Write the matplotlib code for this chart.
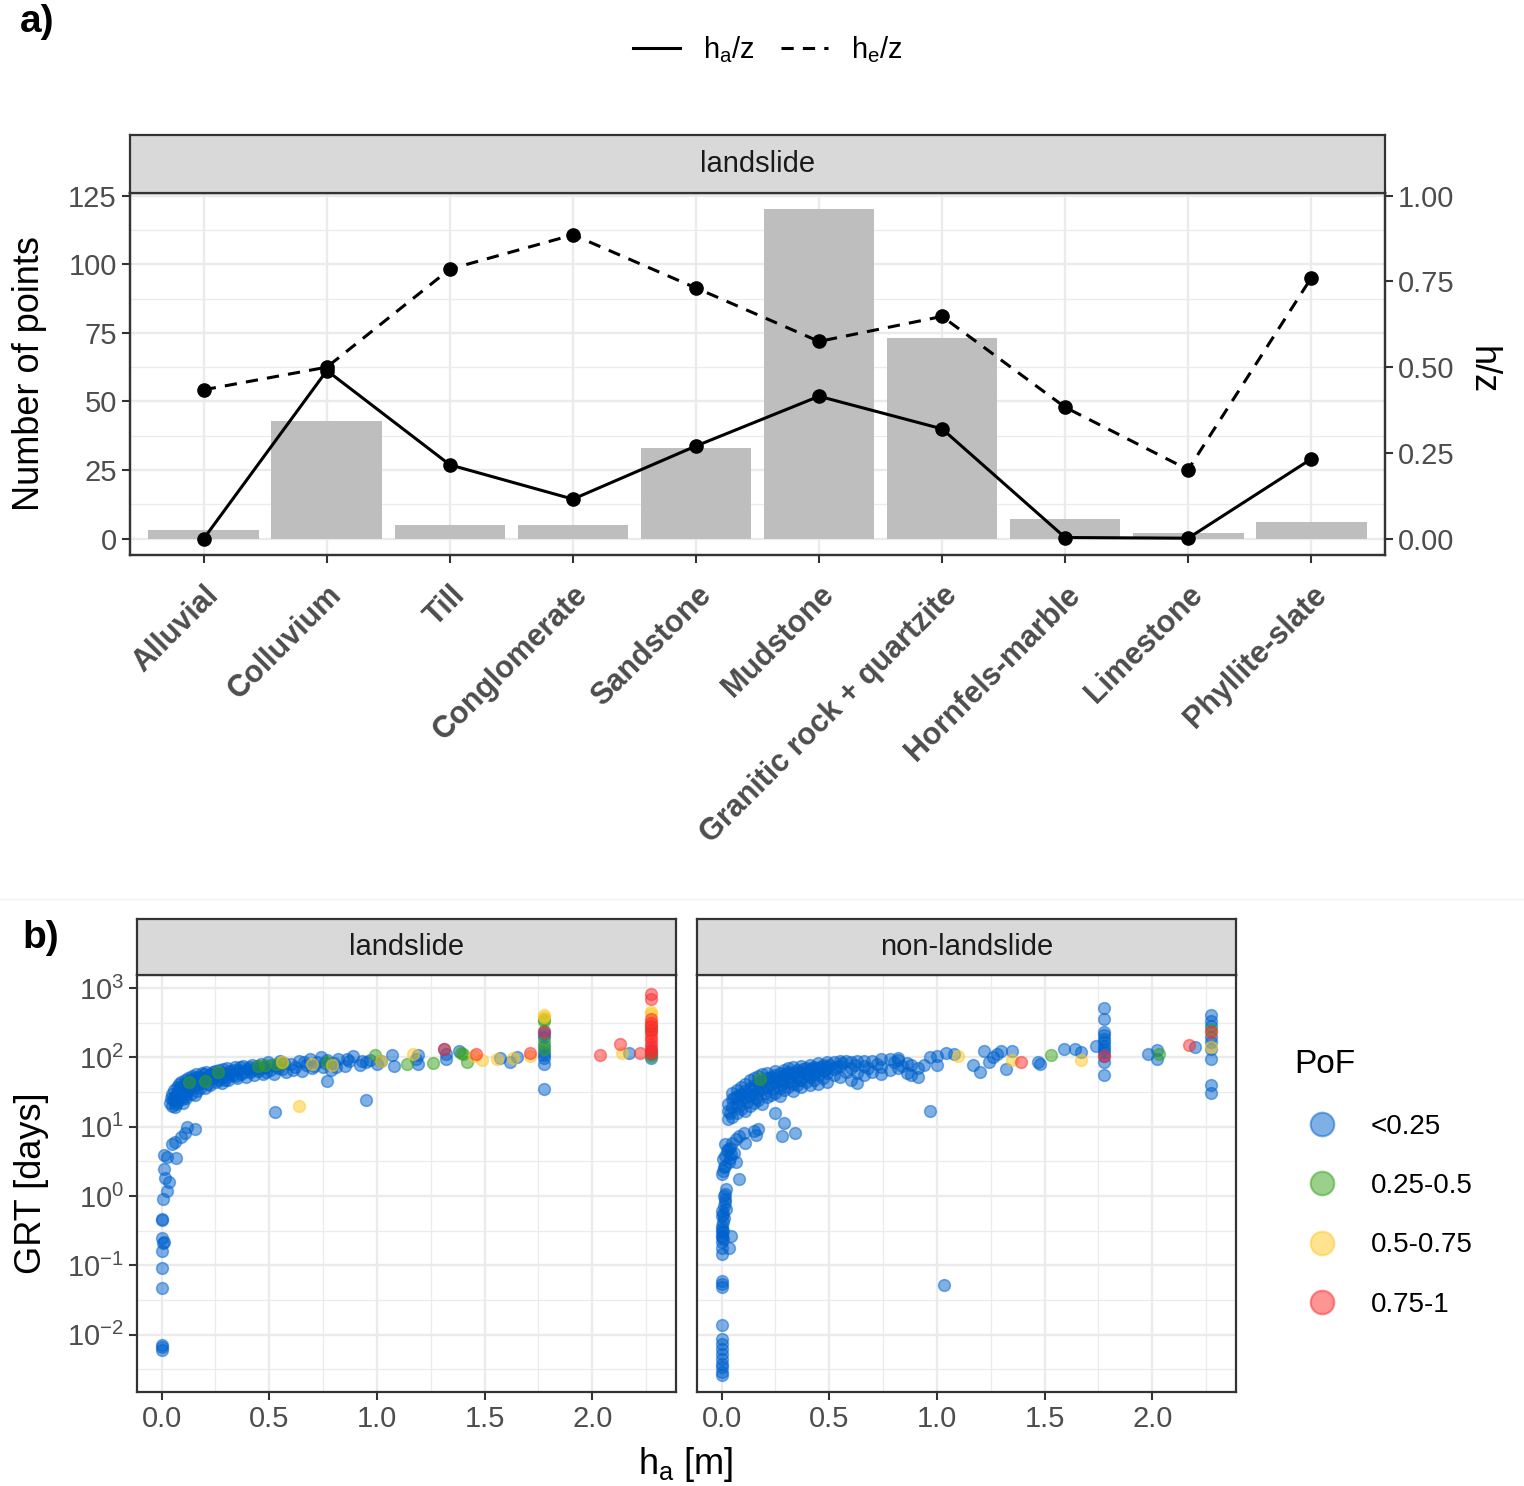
import matplotlib
matplotlib.use("Agg")
import matplotlib.pyplot as plt
from matplotlib.lines import Line2D
import numpy as np

plt.rcParams['font.family'] = ['Liberation Sans', 'DejaVu Sans']
plt.rcParams['mathtext.fontset'] = 'custom'
plt.rcParams['mathtext.rm'] = 'Liberation Sans'
plt.rcParams['mathtext.it'] = 'Liberation Sans:italic'
plt.rcParams['mathtext.default'] = 'regular'

# ---------------- data: panel a ----------------
lithology = ['Alluvial', 'Colluvium', 'Till', 'Conglomerate', 'Sandstone', 'Mudstone',
             'Granitic rock + quartzite', 'Hornfels-marble', 'Limestone', 'Phyllite-slate']
n_points = [3, 43, 5, 5, 33, 120, 73, 7, 2, 6]
ha_z = [0.00, 0.49, 0.215, 0.115, 0.27, 0.415, 0.32, 0.003, 0.001, 0.232]
he_z = [0.434, 0.50, 0.786, 0.886, 0.731, 0.575, 0.648, 0.383, 0.201, 0.76]

# ---------------- data: panel b (h_a [m], GRT [days]) ----------------
ls_blue = [
    (0.000, 0.0060), (0.000, 0.0066), (0.000, 0.0072), (0.000, 0.047), (0.000, 0.093),
    (0.000, 0.16), (0.003, 0.25), (0.010, 0.22), (0.006, 0.21), (0.000, 0.45), (0.003, 0.47),
    (0.006, 0.90), (0.026, 1.2), (0.035, 1.6), (0.018, 1.85), (0.011, 2.5), (0.011, 3.9),
    (0.026, 3.7), (0.068, 3.5), (0.049, 5.6), (0.062, 6.0), (0.092, 7.2), (0.108, 8.1),
    (0.119, 10.0), (0.157, 9.3),
    (0.040, 22), (0.045, 26), (0.050, 20), (0.050, 30), (0.055, 24), (0.060, 34), (0.062, 19),
    (0.065, 28), (0.070, 37), (0.072, 23), (0.075, 31), (0.080, 26), (0.082, 41), (0.085, 35),
    (0.090, 29), (0.092, 44), (0.095, 25), (0.100, 39), (0.102, 32), (0.108, 47), (0.110, 28),
    (0.112, 36), (0.118, 43), (0.122, 51), (0.125, 33), (0.128, 40), (0.132, 47), (0.136, 30),
    (0.140, 54), (0.143, 42), (0.150, 37), (0.152, 50), (0.158, 45), (0.162, 57), (0.166, 33),
    (0.170, 48), (0.175, 41), (0.180, 53), (0.186, 60), (0.190, 44), (0.196, 50), (0.200, 36),
    (0.208, 62), (0.212, 47), (0.220, 55), (0.225, 40), (0.232, 58), (0.240, 50), (0.246, 64),
    (0.252, 45), (0.260, 57), (0.268, 66), (0.272, 50), (0.280, 43), (0.290, 60), (0.298, 53),
    (0.305, 70), (0.310, 47), (0.320, 63), (0.330, 56), (0.340, 72), (0.350, 50), (0.360, 66),
    (0.370, 58), (0.380, 75), (0.390, 52), (0.400, 68), (0.410, 61), (0.420, 78), (0.430, 55),
    (0.440, 70), (0.450, 64), (0.460, 80), (0.470, 58), (0.480, 73), (0.495, 85), (0.505, 66),
    (0.520, 58), (0.530, 76), (0.550, 88), (0.560, 68), (0.580, 62), (0.600, 80), (0.620, 72),
    (0.640, 90), (0.650, 64), (0.670, 78), (0.690, 95), (0.700, 70), (0.720, 85), (0.740, 100),
    (0.750, 74), (0.770, 92), (0.785, 66), (0.800, 82), (0.820, 95), (0.850, 75), (0.870, 88),
    (0.890, 105), (0.920, 78), (0.950, 85), (0.970, 92), (1.000, 80), (1.020, 88), (1.070, 107),
    (1.080, 76),
    (0.058, 27), (0.068, 21), (0.078, 33), (0.088, 38), (0.098, 22), (0.105, 35), (0.115, 26),
    (0.120, 45), (0.135, 38), (0.145, 48), (0.155, 29), (0.165, 52), (0.178, 36), (0.188, 48),
    (0.198, 58), (0.215, 42), (0.228, 52), (0.238, 61), (0.255, 55), (0.265, 47), (0.285, 68),
    (0.295, 48), (0.315, 58), (0.335, 66), (0.345, 54), (0.365, 72), (0.385, 62), (0.405, 74),
    (0.425, 66), (0.445, 76), (0.465, 70), (0.485, 62), (0.510, 78), (0.540, 70), (0.570, 84),
    (0.610, 66), (0.660, 85), (0.710, 76), (0.760, 82), (0.810, 72), (0.860, 95), (0.930, 88),
    (0.527, 16.5), (0.950, 24), (0.770, 46),
    (1.18, 95), (1.19, 81), (1.19, 110), (1.31, 132), (1.32, 95), (1.32, 112), (1.38, 126),
    (1.57, 98), (1.62, 85), (1.65, 100), (2.17, 117),
    (1.775, 245), (1.775, 219), (1.775, 200), (1.775, 148), (1.775, 120), (1.775, 110),
    (1.775, 98), (1.775, 81), (1.775, 35),
    (2.275, 130), (2.275, 112), (2.275, 98),
]
ls_green = [
    (0.126, 44), (0.20, 46), (0.26, 62), (0.45, 76), (0.48, 78), (0.53, 80), (0.56, 82),
    (0.77, 85), (0.99, 107), (1.14, 81), (1.26, 83), (1.39, 117), (1.40, 112), (1.42, 87),
    (1.775, 355), (1.775, 331), (1.775, 166), (1.775, 132),
    (2.275, 288), (2.275, 251), (2.275, 105),
]
ls_yellow = [
    (0.64, 20), (0.56, 85), (0.70, 81), (0.79, 79), (1.02, 89), (1.17, 112), (1.45, 105),
    (1.49, 93), (1.56, 95), (1.63, 98), (1.71, 105), (1.775, 417), (1.775, 380), (2.14, 117),
    (2.275, 457), (2.275, 427), (2.275, 324),
]
ls_red = [
    (1.31, 132), (1.46, 112), (1.71, 117), (1.775, 234), (2.035, 110), (2.13, 158), (2.22, 117),
    (2.275, 832), (2.275, 692), (2.275, 363), (2.275, 316), (2.275, 282), (2.275, 251),
    (2.275, 224), (2.275, 200), (2.275, 178), (2.275, 158), (2.275, 141), (2.275, 126),
    (2.275, 117),
]

nl_blue = [
    (0.0, 0.0026), (0.0, 0.0029), (0.0, 0.0034), (0.0, 0.0038), (0.0, 0.0045), (0.0, 0.0052),
    (0.0, 0.0062), (0.0, 0.0074), (0.0, 0.0087), (0.0, 0.014), (0.0, 0.049), (0.0, 0.054),
    (0.0, 0.060), (1.035, 0.052),
    (0.0, 0.145), (0.003, 0.18), (0.034, 0.18), (0.042, 0.27), (0.003, 0.22), (0.0, 0.27),
    (0.0, 0.34), (0.006, 0.42), (0.0, 0.52), (0.003, 0.61), (0.011, 0.73), (0.018, 0.91),
    (0.015, 1.07), (0.022, 1.26), (0.003, 0.37), (0.0, 0.30), (0.011, 0.49), (0.0, 0.26),
    (0.015, 0.82), (0.006, 0.24), (0.008, 0.56), (0.020, 0.66), (0.012, 1.0), (0.006, 0.31),
    (0.0, 2.1), (0.006, 2.3), (0.015, 2.7), (0.006, 3.4), (0.018, 3.8), (0.026, 4.5),
    (0.037, 5.0), (0.018, 5.6), (0.049, 5.9), (0.065, 6.6), (0.080, 7.4), (0.103, 8.1),
    (0.080, 1.76), (0.065, 3.1), (0.057, 4.2), (0.034, 3.1), (0.046, 4.1), (0.150, 8.7),
    (0.170, 9.2), (0.160, 7.6), (0.110, 5.9), (0.25, 16), (0.29, 11.5), (0.28, 7.4),
    (0.34, 8.1), (0.010, 2.6), (0.030, 4.8), (0.040, 3.6),
    (0.03, 13), (0.03, 17), (0.03, 21),
    (0.05, 14), (0.05, 19), (0.05, 25), (0.05, 31),
    (0.07, 16), (0.07, 22), (0.07, 28), (0.07, 34),
    (0.09, 18), (0.09, 24), (0.09, 30), (0.09, 38),
    (0.11, 17), (0.11, 26), (0.11, 33), (0.11, 42),
    (0.13, 20), (0.13, 28), (0.13, 36), (0.13, 47),
    (0.15, 22), (0.15, 30), (0.15, 40), (0.15, 50),
    (0.17, 24), (0.17, 33), (0.17, 43), (0.17, 54),
    (0.19, 21), (0.19, 35), (0.19, 46), (0.19, 57),
    (0.21, 27), (0.21, 38), (0.21, 50), (0.21, 60),
    (0.23, 29), (0.23, 41), (0.23, 53),
    (0.25, 31), (0.25, 44), (0.25, 56), (0.25, 63),
    (0.27, 28), (0.27, 36), (0.27, 48), (0.27, 60),
    (0.29, 34), (0.29, 45), (0.29, 55), (0.29, 66),
    (0.31, 37), (0.31, 50), (0.31, 62), (0.31, 70),
    (0.33, 33), (0.33, 42), (0.33, 58), (0.33, 72),
    (0.35, 40), (0.35, 53), (0.35, 66),
    (0.37, 37), (0.37, 48), (0.37, 62), (0.37, 75),
    (0.39, 44), (0.39, 58), (0.39, 70),
    (0.41, 40), (0.41, 52), (0.41, 66), (0.41, 78),
    (0.43, 47), (0.43, 60), (0.43, 74),
    (0.45, 42), (0.45, 56), (0.45, 70), (0.45, 82),
    (0.47, 50), (0.47, 64), (0.47, 78),
    (0.49, 45), (0.49, 60), (0.49, 72), (0.49, 85),
    (0.52, 55), (0.52, 68), (0.52, 85),
    (0.55, 52), (0.55, 75), (0.55, 88),
    (0.58, 62), (0.58, 90),
    (0.60, 48), (0.60, 70), (0.60, 85),
    (0.63, 43), (0.63, 60), (0.63, 88),
    (0.66, 55), (0.66, 75), (0.66, 90),
    (0.70, 62), (0.70, 88),
    (0.74, 57), (0.74, 72), (0.74, 95),
    (0.78, 65), (0.78, 95),
    (0.82, 70), (0.82, 92), (0.82, 98),
    (0.86, 60), (0.86, 82),
    (0.88, 55), (0.88, 78),
    (0.91, 52), (0.91, 70),
    (0.94, 77), (0.97, 102), (0.97, 17),
    (0.04, 16), (0.06, 26), (0.08, 20), (0.10, 28), (0.12, 23), (0.14, 34), (0.16, 26),
    (0.18, 38), (0.20, 31), (0.22, 45), (0.24, 36), (0.26, 52), (0.28, 41), (0.30, 58),
    (0.32, 46), (0.34, 62), (0.36, 48), (0.38, 68), (0.40, 56), (0.42, 70), (0.44, 62),
    (0.46, 74), (0.48, 66), (0.50, 78), (0.53, 72), (0.56, 82), (0.62, 78), (0.68, 70),
    (0.72, 80), (0.80, 85), (0.84, 75),
    (1.00, 105), (1.00, 78), (1.04, 117), (1.08, 112), (1.17, 78), (1.20, 62), (1.22, 126),
    (1.24, 87), (1.26, 100), (1.28, 112), (1.30, 123), (1.32, 69), (1.35, 126), (1.47, 85),
    (1.48, 81), (1.59, 132), (1.64, 132), (1.67, 120), (1.74, 148),
    (1.775, 513), (1.775, 355), (1.775, 234), (1.775, 209), (1.775, 186), (1.775, 166),
    (1.775, 148), (1.775, 132), (1.775, 120), (1.775, 105), (1.775, 87), (1.775, 55),
    (1.98, 112), (2.02, 129), (2.02, 95), (2.20, 141),
    (2.275, 407), (2.275, 339), (2.275, 288), (2.275, 195), (2.275, 170), (2.275, 132),
    (2.275, 95), (2.275, 40), (2.275, 31),
]
nl_green = [(0.18, 49), (1.53, 110), (2.03, 112), (2.275, 251)]
nl_yellow = [(1.10, 104), (1.35, 91), (1.67, 91), (2.275, 141)]
nl_red = [(1.39, 87), (1.775, 105), (2.17, 151), (2.275, 234)]

pof_labels = ['<0.25', '0.25-0.5', '0.5-0.75', '0.75-1']
pof_colors = ['#0062CC', '#36A11A', '#FFC820', '#FF2A2A']

# ---------------- figure ----------------
W, H = 1524, 1486
fig = plt.figure(figsize=(W / 100, H / 100), dpi=100)
grey_txt = '#4D4D4D'
border = '#333333'
grid_c = '#EBEBEB'


def style_axes(ax):
    for s in ax.spines.values():
        s.set_color(border)
        s.set_linewidth(1.6)
    ax.tick_params(which='major', length=6, width=1.5, color=border, labelcolor=grey_txt, labelsize=21)
    ax.tick_params(which='minor', length=0)


def strip(rect, text):
    s = fig.add_axes(rect)
    s.set_facecolor('#D9D9D9')
    s.set_xticks([])
    s.set_yticks([])
    for sp in s.spines.values():
        sp.set_color(border)
        sp.set_linewidth(1.6)
    s.text(0.5, 0.5, text, ha='center', va='center', fontsize=21, color='#1A1A1A', transform=s.transAxes)


# panel a
ax = fig.add_axes([130 / W, 1 - 555 / H, 1255 / W, 362 / H])
xpos = np.arange(len(lithology))
ax.bar(xpos, n_points, width=0.9, color='#BEBEBE', zorder=2)
ax.set_xlim(-0.6, len(lithology) - 0.4)
ax.set_ylim(-6, 126)
ax.set_yticks([0, 25, 50, 75, 100, 125])
ax.set_yticks([12.5, 37.5, 62.5, 87.5, 112.5], minor=True)
ax.grid(which='major', color=grid_c, lw=1.7)
ax.grid(which='minor', axis='y', color=grid_c, lw=0.9)
ax.set_axisbelow(True)
ax.set_xticks(xpos)
ax.set_xticklabels(lithology, rotation=45, ha='right', va='top', rotation_mode='anchor',
                   fontweight='bold')
style_axes(ax)
ax.tick_params(axis='x', labelsize=22, pad=12)
ax.set_ylabel('Number of points', fontsize=26)
ax.yaxis.set_label_coords(-0.066, 0.5)

ax2 = ax.twinx()
ax2.set_ylim(-6 / 125, 126 / 125)
ax2.set_yticks([0, 0.25, 0.5, 0.75, 1.0])
ax2.set_yticklabels(['0.00', '0.25', '0.50', '0.75', '1.00'])
ax2.plot(xpos, ha_z, color='black', lw=2.2, marker='o', ms=9.5, zorder=3)
ax2.plot(xpos, he_z, color='black', lw=2.2, ls=(0, (4, 3)), marker='o', ms=9.5, zorder=3)
style_axes(ax2)
fig.text(1482 / W, 1 - 370 / H, 'h/z', rotation=270, ha='center', va='center', fontsize=26)

strip([130 / W, 1 - 193 / H, 1255 / W, 58 / H], 'landslide')

leg_lines = [Line2D([], [], color='black', lw=2.2),
             Line2D([], [], color='black', lw=2.2, ls=(0, (4, 3)))]
fig.legend(leg_lines, [r'h$_{a}$/z', r'h$_{e}$/z'], loc='center',
           bbox_to_anchor=(768 / W, 1 - 50 / H), ncol=2, frameon=False, fontsize=21,
           handlelength=1.6, handletextpad=0.8, columnspacing=0.9)

fig.text(20 / W, 1 - 22 / H, 'a)', fontsize=28, fontweight='bold', va='center', ha='left')
fig.text(22 / W, 1 - 938 / H, 'b)', fontsize=28, fontweight='bold', va='center', ha='left')
fig.add_artist(Line2D([0, 1], [1 - 899 / H, 1 - 899 / H], color='#F3F3F3', lw=1))

# panel b
panels = [
    ('landslide', 137, [ls_blue, ls_green, ls_yellow, ls_red]),
    ('non-landslide', 697, [nl_blue, nl_green, nl_yellow, nl_red]),
]
for i, (name, left, groups) in enumerate(panels):
    axb = fig.add_axes([left / W, 1 - 1392 / H, 539 / W, 417 / H])
    for pts, col in zip(groups, pof_colors):
        xs, ys = zip(*pts)
        axb.scatter(xs, ys, s=72, color=col, alpha=0.5, edgecolors=col, linewidths=1.1, zorder=3)
    axb.set_yscale('log')
    axb.set_ylim(10 ** -2.826, 10 ** 3.19)
    axb.set_xlim(-0.114, 2.389)
    axb.set_xticks([0, 0.5, 1.0, 1.5, 2.0])
    axb.set_xticklabels(['0.0', '0.5', '1.0', '1.5', '2.0'])
    axb.set_xticks([0.25, 0.75, 1.25, 1.75, 2.25], minor=True)
    axb.set_yticks([10.0 ** k for k in range(-2, 4)])
    axb.set_yticks([10.0 ** (k + 0.5) for k in range(-3, 3)], minor=True)
    axb.grid(which='major', color=grid_c, lw=1.7)
    axb.grid(which='minor', color=grid_c, lw=0.9)
    axb.set_axisbelow(True)
    style_axes(axb)
    if i == 0:
        axb.set_yticklabels([r'$10^{%d}$' % k for k in range(-2, 4)])
        axb.set_ylabel('GRT [days]', fontsize=26)
        axb.yaxis.set_label_coords(-0.163, 0.5)
    else:
        axb.tick_params(axis='y', which='both', left=False, labelleft=False)
    axb.yaxis.set_minor_formatter(plt.NullFormatter())
    strip([left / W, 1 - 975 / H, 539 / W, 56 / H], name)

fig.text(686 / W, 1 - 1465 / H, r'h$_{a}$ [m]', ha='center', va='center', fontsize=26)

pof_handles = [Line2D([], [], ls='', marker='o', ms=17, mfc=c, mec=c, mew=1.5, alpha=0.5)
               for c in pof_colors]
fig.legend(pof_handles, pof_labels, title='PoF', loc='upper left',
           bbox_to_anchor=(1275 / W, 1 - 1030 / H), frameon=False, fontsize=20,
           title_fontsize=24, alignment='left', labelspacing=1.2, handletextpad=0.75,
           borderpad=0.2)

fig.savefig('out.png', dpi=100)
